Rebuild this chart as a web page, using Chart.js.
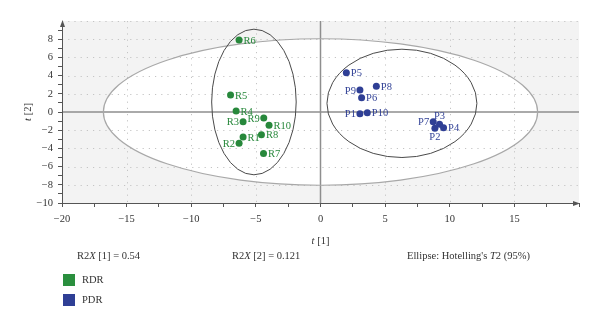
<!DOCTYPE html>
<html>
<head>
<meta charset="utf-8">
<script src="https://cdn.jsdelivr.net/npm/chart.js@4/dist/chart.umd.min.js"></script>
<style>
  html, body { margin: 0; padding: 0; background: #fff; }
  #wrap { position: relative; width: 600px; height: 324px; font-family: "Liberation Serif", "DejaVu Serif", serif; color: #333; }
  canvas { position: absolute; left: 0; top: 0; }
  .note { position: absolute; font-size: 10.5px; line-height: 12px; white-space: nowrap; color: #333; }
  .sw { position: absolute; width: 12px; height: 12px; }
</style>
</head>
<body>
<div id="wrap">
  <canvas id="c" width="600" height="324"></canvas>
  <div class="note" style="left:77px; top:250px;">R2<i>X</i> [1] = 0.54</div>
  <div class="note" style="left:232px; top:250px;">R2<i>X</i> [2] = 0.121</div>
  <div class="note" style="left:407px; top:250px;">Ellipse: Hotelling's <i>T</i>2 (95%)</div>
  <div class="sw" style="left:63px; top:274px; background:#2a8f3e;"></div>
  <div class="note" style="left:82px; top:274px;">RDR</div>
  <div class="sw" style="left:63px; top:294px; background:#2f3f95;"></div>
  <div class="note" style="left:82px; top:294px;">PDR</div>
</div>
<script>
// ---- data ----
const rdrLabels = ['R1','R2','R3','R4','R5','R6','R7','R8','R9','R10'];
const rdrX = [-5.99, -6.30, -5.99, -6.53, -6.96, -6.30, -4.41, -4.57, -4.39, -3.98];
const rdrY = [-2.74, -3.44, -1.06, 0.11, 1.87, 7.90, -4.57, -2.49, -0.66, -1.46];
const pdrLabels = ['P1','P2','P3','P4','P5','P6','P7','P8','P9','P10'];
const pdrX = [3.05, 8.85, 9.21, 9.52, 2.00, 3.18, 8.72, 4.32, 3.05, 3.62];
const pdrY = [-0.18, -1.79, -1.35, -1.72, 4.32, 1.57, -1.06, 2.82, 2.41, -0.07];
const xTicks = [-20, -15, -10, -5, 0, 5, 10, 15];
const yTicks = [-10, -8, -6, -4, -2, 0, 2, 4, 6, 8];
// ellipses: [centerX, centerY, semiX, semiY]
const hotellingEllipse = [0, 0, 16.8, 8.05];
const rdrEllipse = [-5.15, 1.1, 3.27, 8.0];
const pdrEllipse = [6.3, 0.95, 5.8, 5.95];

// ---- styles ----
const GREEN = '#27883b', BLUE = '#2f3f95';
const FONT = '"Liberation Serif", "DejaVu Serif", serif';
const labelSide = { R2:'l', R3:'l', R9:'l', P1:'l', P7:'l', P9:'l', P3:'t', P2:'b' };

const fmt = v => (v < 0 ? '\u2212' + Math.abs(v) : String(v));

function ellipsePath(ctx, chart, e) {
  const xs = chart.scales.x, ys = chart.scales.y;
  const cx = xs.getPixelForValue(e[0]), cy = ys.getPixelForValue(e[1]);
  const rx = Math.abs(xs.getPixelForValue(e[0] + e[2]) - cx);
  const ry = Math.abs(ys.getPixelForValue(e[1] + e[3]) - cy);
  ctx.beginPath();
  ctx.ellipse(cx, cy, rx, ry, 0, 0, Math.PI * 2);
}

const decor = {
  id: 'decor',
  beforeDraw(chart) {
    const { ctx, chartArea: a } = chart;
    ctx.save();
    ctx.fillStyle = '#f3f3f3';
    ctx.fillRect(a.left, a.top, a.right - a.left, a.bottom - a.top);
    ctx.beginPath(); ctx.rect(a.left, a.top, a.right - a.left, a.bottom - a.top); ctx.clip();
    ellipsePath(ctx, chart, hotellingEllipse);
    ctx.fillStyle = '#ffffff';
    ctx.fill();
    ctx.restore();
  },
  beforeDatasetsDraw(chart) {
    const { ctx, chartArea: a } = chart;
    const xs = chart.scales.x, ys = chart.scales.y;
    ctx.save();
    ctx.beginPath(); ctx.rect(a.left, a.top, a.right - a.left, a.bottom - a.top); ctx.clip();
    // dotted grid
    ctx.strokeStyle = '#c4c4c4';
    ctx.lineWidth = 1;
    ctx.setLineDash([1.2, 5]);
    xTicks.concat([20]).forEach(v => {
      if (v === 0 || v === -20) return;
      const px = Math.round(xs.getPixelForValue(v)) + 0.5;
      ctx.beginPath(); ctx.moveTo(px, a.top); ctx.lineTo(px, a.bottom); ctx.stroke();
    });
    yTicks.concat([10]).forEach(v => {
      if (v === 0 || v === -10) return;
      const py = Math.round(ys.getPixelForValue(v)) + 0.5;
      ctx.beginPath(); ctx.moveTo(a.left, py); ctx.lineTo(a.right, py); ctx.stroke();
    });
    ctx.setLineDash([]);
    // zero lines
    ctx.strokeStyle = '#8e8e8e';
    ctx.lineWidth = 1.5;
    const x0 = xs.getPixelForValue(0), y0 = ys.getPixelForValue(0);
    ctx.beginPath(); ctx.moveTo(x0, a.top); ctx.lineTo(x0, a.bottom); ctx.stroke();
    ctx.beginPath(); ctx.moveTo(a.left, y0); ctx.lineTo(a.right, y0); ctx.stroke();
    // ellipses
    ctx.strokeStyle = '#a8a8a8'; ctx.lineWidth = 1.2;
    ellipsePath(ctx, chart, hotellingEllipse); ctx.stroke();
    ctx.strokeStyle = '#4a4a4a'; ctx.lineWidth = 1;
    ellipsePath(ctx, chart, rdrEllipse); ctx.stroke();
    ellipsePath(ctx, chart, pdrEllipse); ctx.stroke();
    ctx.restore();
    // axis lines with arrows
    ctx.save();
    ctx.strokeStyle = '#555'; ctx.fillStyle = '#555'; ctx.lineWidth = 1;
    const L = a.left + 0.5, B = a.bottom + 0.5;
    ctx.beginPath(); ctx.moveTo(L, B); ctx.lineTo(L, a.top + 2); ctx.stroke();
    ctx.beginPath(); ctx.moveTo(L, a.top - 1); ctx.lineTo(L - 2.5, a.top + 6); ctx.lineTo(L + 2.5, a.top + 6); ctx.closePath(); ctx.fill();
    ctx.beginPath(); ctx.moveTo(L, B); ctx.lineTo(a.right - 2, B); ctx.stroke();
    ctx.beginPath(); ctx.moveTo(a.right + 1, B); ctx.lineTo(a.right - 6, B - 2.5); ctx.lineTo(a.right - 6, B + 2.5); ctx.closePath(); ctx.fill();
    ctx.restore();
  },
  afterDatasetsDraw(chart) {
    const { ctx } = chart;
    ctx.save();
    ctx.font = '10.5px ' + FONT;
    chart.data.datasets.forEach((ds, di) => {
      const meta = chart.getDatasetMeta(di);
      ctx.fillStyle = ds.backgroundColor;
      meta.data.forEach((pt, i) => {
        const name = ds.names[i];
        const side = labelSide[name] || 'r';
        let x = pt.x, y = pt.y;
        if (side === 'r') { ctx.textAlign = 'left'; ctx.textBaseline = 'middle'; x += 4.5; y += 1; }
        else if (side === 'l') { ctx.textAlign = 'right'; ctx.textBaseline = 'middle'; x -= 4; y += 1; }
        else if (side === 't') { ctx.textAlign = 'center'; ctx.textBaseline = 'bottom'; y -= 3; }
        else { ctx.textAlign = 'center'; ctx.textBaseline = 'top'; y += 4; }
        ctx.fillText(name, x, y);
      });
    });
    ctx.restore();
  },
  afterDraw(chart) {
    const { ctx, chartArea: a } = chart;
    ctx.save();
    ctx.fillStyle = '#333';
    ctx.textBaseline = 'middle';
    const drawTitle = (cx, cy, rot, num) => {
      ctx.save();
      ctx.translate(cx, cy);
      ctx.rotate(rot);
      ctx.font = 'italic 10.5px ' + FONT;
      const w1 = ctx.measureText('t').width;
      ctx.font = '10.5px ' + FONT;
      const rest = ' [' + num + ']';
      const w2 = ctx.measureText(rest).width;
      const start = -(w1 + w2) / 2;
      ctx.textAlign = 'left';
      ctx.font = 'italic 10.5px ' + FONT;
      ctx.fillText('t', start, 0);
      ctx.font = '10.5px ' + FONT;
      ctx.fillText(rest, start + w1, 0);
      ctx.restore();
    };
    drawTitle(chart.scales.x.getPixelForValue(0), 241, 0, 1);
    drawTitle(28, chart.scales.y.getPixelForValue(0), -Math.PI / 2, 2);
    ctx.restore();
  }
};

new Chart(document.getElementById('c'), {
  type: 'scatter',
  data: {
    datasets: [
      { label: 'RDR', names: rdrLabels, data: rdrX.map((x, i) => ({ x, y: rdrY[i] })),
        backgroundColor: GREEN, borderColor: GREEN, pointRadius: 3.5, pointBorderWidth: 0 },
      { label: 'PDR', names: pdrLabels, data: pdrX.map((x, i) => ({ x, y: pdrY[i] })),
        backgroundColor: BLUE, borderColor: BLUE, pointRadius: 3.5, pointBorderWidth: 0 }
    ]
  },
  options: {
    responsive: false,
    animation: false,
    events: [],
    layout: { padding: { left: 0, right: 21, top: 21, bottom: 81 } },
    plugins: { legend: { display: false }, tooltip: { enabled: false } },
    scales: {
      x: {
        type: 'linear', min: -20, max: 20,
        afterFit: s => { s.height = 40; },
        afterBuildTicks: s => { const t = []; for (let v = -20; v <= 20; v += 2.5) t.push({ value: v }); s.ticks = t; },
        ticks: {
          autoSkip: false, maxRotation: 0, padding: 6, color: '#333',
          font: { family: FONT, size: 10.5 },
          callback: v => (xTicks.includes(v) ? fmt(v) : '')
        },
        grid: { drawOnChartArea: false, drawTicks: true, tickLength: 4, tickColor: '#555', tickWidth: 1 },
        border: { display: false }
      },
      y: {
        type: 'linear', min: -10, max: 10,
        afterFit: s => { s.width = 62; },
        afterBuildTicks: s => { const t = []; for (let v = -10; v <= 9; v += 1) t.push({ value: v }); s.ticks = t; },
        ticks: {
          autoSkip: false, padding: 5, color: '#333',
          font: { family: FONT, size: 10.5 },
          callback: v => (yTicks.includes(v) ? fmt(v) : '')
        },
        grid: { drawOnChartArea: false, drawTicks: true, tickLength: 4, tickColor: '#555', tickWidth: 1 },
        border: { display: false }
      }
    }
  },
  plugins: [decor]
});
</script>
</body>
</html>
